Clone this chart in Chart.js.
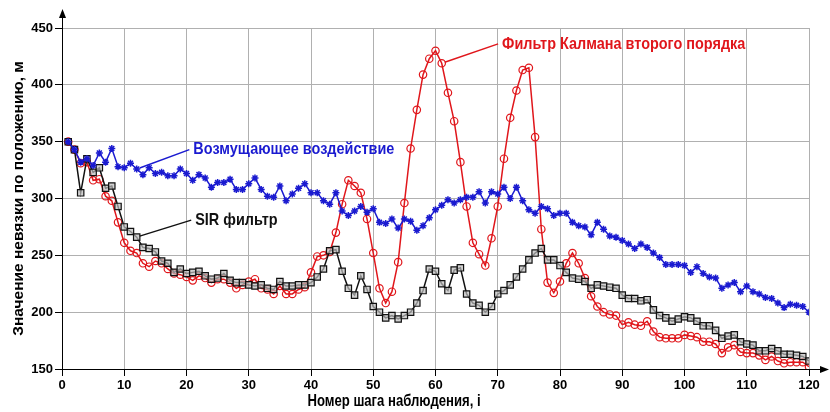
<!DOCTYPE html>
<html lang="ru">
<head>
<meta charset="UTF-8">
<title>Невязки по положению</title>
<script src="https://cdn.jsdelivr.net/npm/chart.js"></script>
<style>
  body { margin: 0; background: #fff; }
  #wrap { width: 830px; height: 412px; position: relative; }
</style>
</head>
<body>
<div id="wrap"><canvas id="chart"></canvas></div>
<script>
// Observation steps 1..120
const steps = Array.from({ length: 120 }, (_, k) => k + 1)

// Возмущающее воздействие (blue)
const disturbance = [
  350, 343, 332, 335, 329, 340, 332, 344, 328, 327,
  331, 326, 321, 327, 322, 323, 320, 320, 326, 322,
  316, 321, 318, 310, 314, 314, 317, 308, 308, 313,
  318, 308, 302, 301, 311, 298, 304, 309, 313, 305,
  305, 298, 295, 305, 289, 285, 289, 293, 288, 291,
  279, 278, 282, 274, 282, 280, 272, 276, 283, 290,
  294, 299, 296, 299, 301, 301, 306, 296, 306, 304,
  310, 300, 310, 298, 290, 287, 293, 291, 285, 287,
  287, 279, 276, 275, 268, 279, 273, 267, 266, 263,
  260, 256, 260, 257, 252, 248, 242, 242, 242, 241,
  235, 240, 234, 231, 230, 221, 224, 226, 218, 223,
  218, 216, 213, 212, 208, 204, 207, 206, 205, 200,
]

// SIR фильтр (black)
const sir = [
  350, 343, 305, 335, 323, 327, 309, 311, 293, 275,
  271, 266, 257, 256, 253, 245, 243, 235, 238, 234,
  235, 236, 232, 229, 230, 234, 228, 226, 226, 224,
  223, 224, 221, 220, 227, 223, 223, 224, 224, 226,
  231, 238, 254, 255, 236, 221, 215, 232, 220, 205,
  200, 195, 197, 194, 197, 200, 208, 219, 238, 236,
  225, 219, 237, 239, 216, 208, 206, 200, 205, 216,
  219, 224, 231, 238, 246, 252, 256, 246, 246, 241,
  235, 230, 229, 227, 221, 224, 223, 222, 221, 215,
  212, 212, 210, 211, 202, 197, 195, 192, 194, 196,
  195, 192, 188, 188, 184, 177, 179, 180, 174, 172,
  171, 166, 166, 168, 166, 163, 163, 162, 161, 157,
]

// Фильтр Калмана второго порядка (red)
const kalman = [
  350, 343, 331, 332, 316, 317, 302, 298, 279, 261,
  254, 252, 243, 240, 245, 243, 238, 234, 233, 231,
  228, 232, 230, 226, 229, 229, 226, 221, 224, 227,
  229, 221, 220, 216, 223, 216, 216, 220, 222, 235,
  249, 250, 253, 270, 295, 316, 311, 305, 282, 252,
  221, 208, 218, 244, 296, 344, 378, 409, 423, 430,
  419, 393, 368, 332, 293, 261, 251, 241, 265, 293,
  335, 371, 395, 413, 415, 354, 273, 226, 217, 227,
  243, 252, 243, 230, 214, 205, 200, 198, 197, 189,
  191, 189, 188, 192, 183, 178, 177, 177, 177, 180,
  179, 178, 174, 174, 172, 164, 169, 171, 165, 164,
  164, 162, 158, 161, 157, 155, 156, 156, 156, 152,
]

const xTicks = [0, 10, 20, 30, 40, 50, 60, 70, 80, 90, 100, 110, 120]
const yTicks = [150, 200, 250, 300, 350, 400, 450]

const RED = "#e0161b"
const BLUE = "#1a1ad0"
const BLACK = "#111111"
const FONT = "'Liberation Sans', Arial, sans-serif"

const toPoints = vals => vals.map((v, k) => ({ x: steps[k], y: v }))

// callouts: text anchored in data coords, leader line to a data point
const notes = [
  { text: "Фильтр Калмана второго порядка", color: RED, at: [70.7, 436], series: kalman, step: 61 },
  { text: "Возмущающее воздействие", color: BLUE, at: [21.1, 343], series: disturbance, step: 12 },
  { text: "SIR фильтр", color: BLACK, at: [21.4, 281], series: sir, step: 12 },
]

// the source uses a condensed bold face, so squeeze the text horizontally
function narrowText(ctx, text, x, y, sx) {
  ctx.save()
  ctx.translate(x, y)
  ctx.scale(sx, 1)
  ctx.fillText(text, 0, 0)
  ctx.restore()
}

const decorations = {
  id: "decorations",
  afterDraw(chart) {
    const { ctx, chartArea: a, scales: { x, y } } = chart
    ctx.save()
    // axis arrows
    ctx.strokeStyle = "#000"
    ctx.fillStyle = "#000"
    ctx.lineWidth = 1
    ctx.beginPath()
    ctx.moveTo(a.left + 0.5, a.top)
    ctx.lineTo(a.left + 0.5, 16)
    ctx.moveTo(a.right, a.bottom + 0.5)
    ctx.lineTo(822, a.bottom + 0.5)
    ctx.stroke()
    ctx.beginPath()
    ctx.moveTo(a.left + 0.5, 9)
    ctx.lineTo(a.left - 3, 18)
    ctx.lineTo(a.left + 4, 18)
    ctx.closePath()
    ctx.fill()
    ctx.beginPath()
    ctx.moveTo(829, a.bottom + 0.5)
    ctx.lineTo(820, a.bottom - 3)
    ctx.lineTo(820, a.bottom + 4)
    ctx.closePath()
    ctx.fill()

    // x axis title
    ctx.font = "bold 16px " + FONT
    ctx.textAlign = "center"
    ctx.textBaseline = "middle"
    narrowText(ctx, "Номер шага наблюдения, i", 394, 402, 0.82)

    // callouts
    ctx.font = "bold 17px " + FONT
    ctx.textAlign = "left"
    notes.forEach(n => {
      const tx = x.getPixelForValue(n.at[0])
      const ty = y.getPixelForValue(n.at[1])
      const px = x.getPixelForValue(n.step)
      const py = y.getPixelForValue(n.series[n.step - 1])
      ctx.strokeStyle = n.color
      ctx.fillStyle = n.color
      ctx.lineWidth = 1.5
      ctx.beginPath()
      ctx.moveTo(tx - 4, ty)
      ctx.lineTo(px + 3, py - 1)
      ctx.stroke()
      narrowText(ctx, n.text, tx, ty, 0.85)
    })
    ctx.restore()
  }
}

const gridOpts = {
  color: "#b0b0b0",
  lineWidth: 1,
  borderDash: [1, 2],
  tickColor: "#000",
  tickBorderDash: [],
  tickLength: 7,
  tickWidth: 1,
}

new Chart(document.getElementById("chart"), {
  type: "line",
  data: {
    datasets: [
      {
        label: "Возмущающее воздействие",
        data: toPoints(disturbance),
        borderColor: BLUE,
        backgroundColor: BLUE,
        borderWidth: 1.5,
        pointStyle: "star",
        pointRadius: 3.5,
        pointBorderWidth: 1.5,
        tension: 0,
      },
      {
        label: "SIR фильтр",
        data: toPoints(sir),
        borderColor: BLACK,
        backgroundColor: "rgba(190,190,190,0.7)",
        borderWidth: 1.5,
        pointStyle: "rect",
        pointRadius: 4.5,
        pointBorderWidth: 1.2,
        tension: 0,
      },
      {
        label: "Фильтр Калмана второго порядка",
        data: toPoints(kalman),
        borderColor: RED,
        backgroundColor: "rgba(255,255,255,0)",
        borderWidth: 1.5,
        pointStyle: "circle",
        pointRadius: 3.7,
        pointBorderWidth: 1.2,
        tension: 0,
      },
    ],
  },
  options: {
    responsive: true,
    maintainAspectRatio: false,
    animation: false,
    layout: { padding: { top: 28, right: 21, left: 0, bottom: 0 } },
    plugins: { legend: { display: false }, tooltip: { enabled: false } },
    scales: {
      x: {
        type: "linear",
        min: 0,
        max: 120,
        afterBuildTicks: s => { s.ticks = xTicks.map(v => ({ value: v })) },
        afterFit: s => { s.height = 43 },
        grid: gridOpts,
        border: { color: "#000", width: 1 },
        ticks: { color: "#000", padding: 2, maxRotation: 0, font: { family: FONT, size: 13, weight: "bold" } },
      },
      y: {
        type: "linear",
        min: 150,
        max: 450,
        afterBuildTicks: s => { s.ticks = yTicks.map(v => ({ value: v })) },
        afterFit: s => { s.width = 62 },
        grid: gridOpts,
        border: { color: "#000", width: 1 },
        ticks: { color: "#000", padding: 2, font: { family: FONT, size: 13, weight: "bold" } },
        title: {
          display: true,
          text: "Значение невязки по положению, м",
          color: "#000",
          padding: { top: 9, bottom: 0 },
          font: { family: FONT, size: 15.5, weight: "bold" },
        },
      },
    },
  },
  plugins: [decorations],
})
</script>
</body>
</html>
